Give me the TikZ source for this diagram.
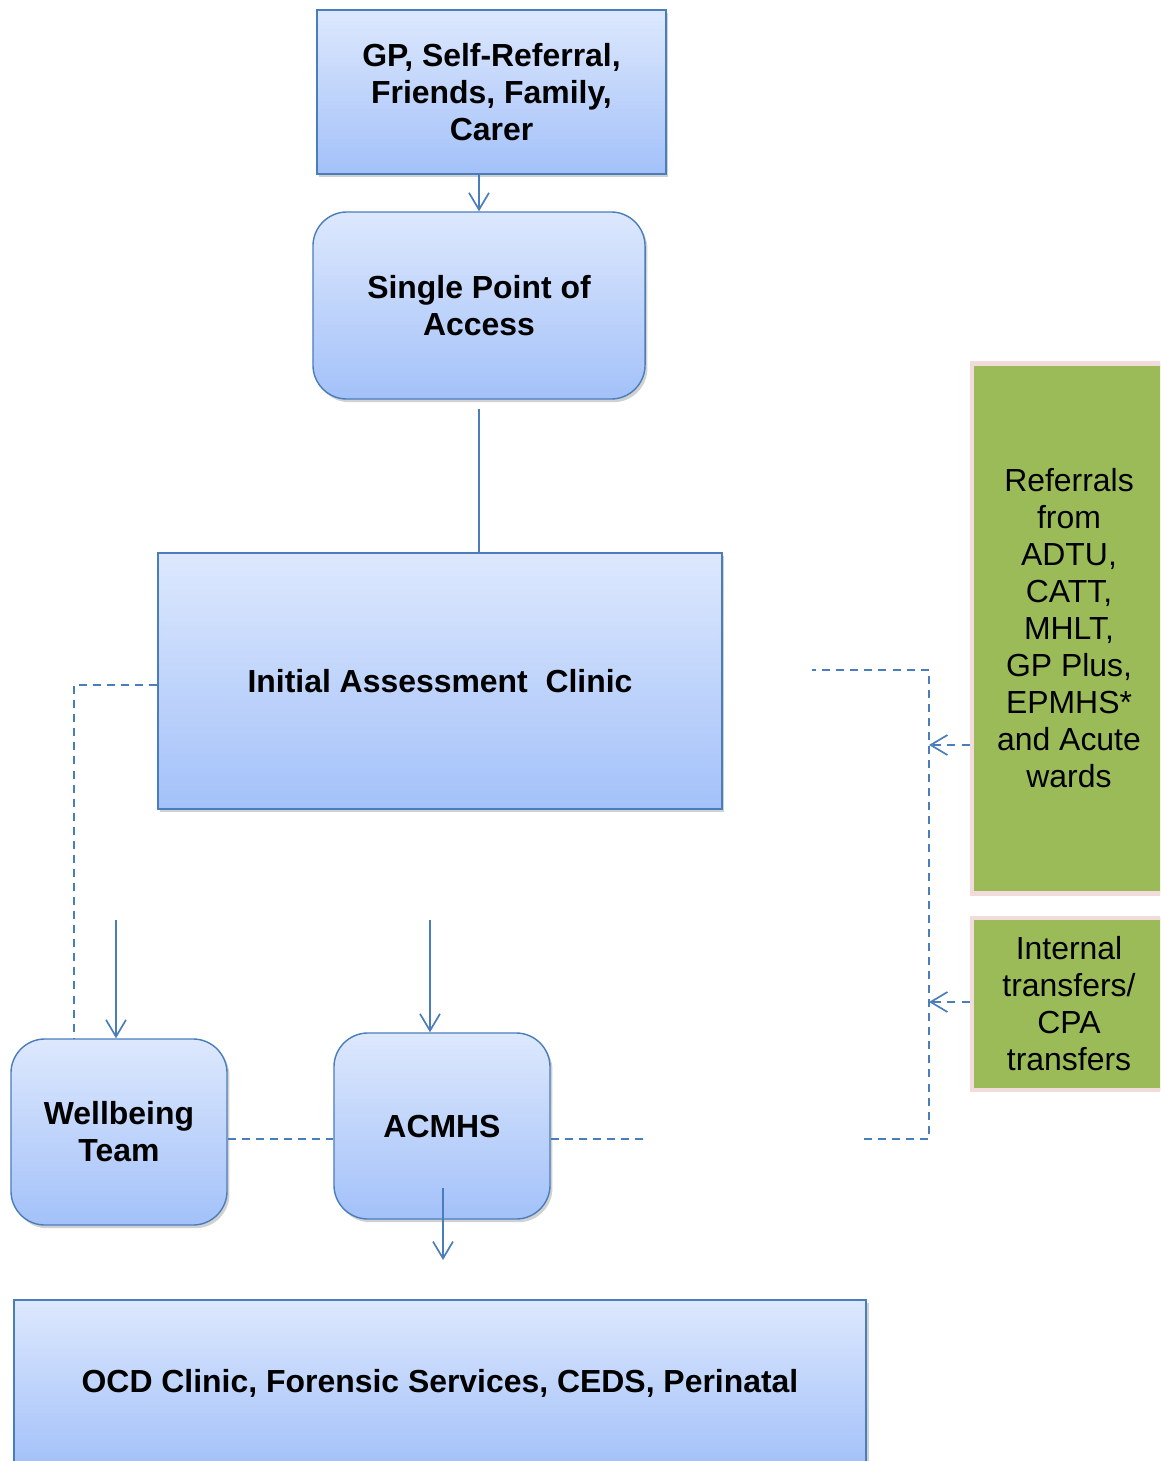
\documentclass[tikz,border=0pt]{standalone}
\usepackage{fontspec}
\setmainfont{Liberation Sans}
\usetikzlibrary{arrows.meta,shadows}

\definecolor{boxline}{HTML}{4A7EBB}
\definecolor{boxtop}{HTML}{DDE8FD}
\definecolor{boxbot}{HTML}{A3C1F9}
\definecolor{greenfill}{HTML}{9BBB59}
\definecolor{pinkline}{HTML}{F2DCDB}

\begin{document}
\begin{tikzpicture}[x=0.025cm, y=-0.025cm,
	bluebox/.style={draw=boxline, line width=1pt, top color=boxtop, bottom color=boxbot,
		align=center, inner sep=0pt, font=\fontsize{22.7}{26.3}\selectfont\bfseries,
		drop shadow={shadow xshift=0.06cm, shadow yshift=-0.08cm, opacity=0.3, fill=black!60}},
	roundbox/.style={bluebox, rounded corners=0.85cm},
	greenbox/.style={draw=pinkline, line width=3.5pt, fill=greenfill, align=center,
		inner sep=0pt, font=\fontsize{22.7}{26.3}\selectfont},
	link/.style={boxline, line width=1.2pt},
	dashlink/.style={link, dash pattern=on 5.7pt off 4.3pt},
	arrowtip/.style={-{Straight Barb[length=0.42cm, width=0.5cm]}}]
				\useasboundingbox (0,0) rectangle (1160,1461);
				\clip (0,0) rectangle (1160,1461);
				
				\node[bluebox, minimum width=8.725cm, minimum height=4.1cm] (gp) at (491.5,92) {GP, Self-Referral,\\Friends, Family,\\Carer};
				\node[roundbox, minimum width=8.3cm, minimum height=4.675cm] (spa) at (479,305.5) {Single Point of\\Access};
				\node[bluebox, minimum width=14.1cm, minimum height=6.4cm] (iac) at (440,681) {Initial Assessment\ \ Clinic};
				\node[roundbox, minimum width=5.4cm, minimum height=4.65cm] (wb) at (119,1132) {Wellbeing\\Team};
				\node[roundbox, minimum width=5.4cm, minimum height=4.65cm] (acmhs) at (442,1126) {ACMHS};
				\node[bluebox, minimum width=21.3cm, minimum height=4.15cm] (ocd) at (440,1383) {OCD Clinic, Forensic Services, CEDS, Perinatal};
				
				\node[greenbox, minimum width=4.85cm, minimum height=13.225cm] (refs) at (1069,628.5) {Referrals\\from\\ADTU,\\CATT,\\MHLT,\\GP Plus,\\EPMHS*\\and Acute\\wards};
				\node[greenbox, minimum width=4.85cm, minimum height=4.3cm] (intl) at (1069,1004) {Internal\\transfers/\\CPA\\transfers};
				
				\coordinate (spaout) at (479,409);
				\coordinate (iacside) at (74,685);
				\coordinate (wbin) at (116,920);
				\coordinate (acin) at (430,920);
				\coordinate (acout) at (443,1188);
				\coordinate (ocdin) at (443,1260);
				\coordinate (midrow) at (645,1139);
				\coordinate (loopstart) at (864,1139);
				\coordinate (loopcorner) at (929,1139);
				\coordinate (looptop) at (929,670);
				\coordinate (loopend) at (812,670);
				\coordinate (refsin) at (929,745);
				\coordinate (intlin) at (929,1002);
				
				\draw[link, arrowtip] (gp.south -| spa.north) -- (spa.north);
				\draw[link] (spaout) -- (spaout |- iac.north);
				\draw[dashlink] (iac.west |- iacside) -- (iacside) -- (iacside |- wb.north);
				\draw[link, arrowtip] (wbin) -- (wbin |- wb.north);
				\draw[link, arrowtip] (acin) -- (acin |- acmhs.north);
				\draw[link, arrowtip] (acout) -- (ocdin);
				
				\draw[dashlink] (wb.east |- midrow) -- (acmhs.west |- midrow);
				\draw[dashlink] (acmhs.east |- midrow) -- (midrow);
				\draw[dashlink] (loopstart) -- (loopcorner) -- (looptop) -- (loopend);
				\draw[dashlink, arrowtip] (refs.west |- refsin) -- (refsin);
				\draw[dashlink, arrowtip] (intl.west |- intlin) -- (intlin);
			\end{tikzpicture}
\end{document}
